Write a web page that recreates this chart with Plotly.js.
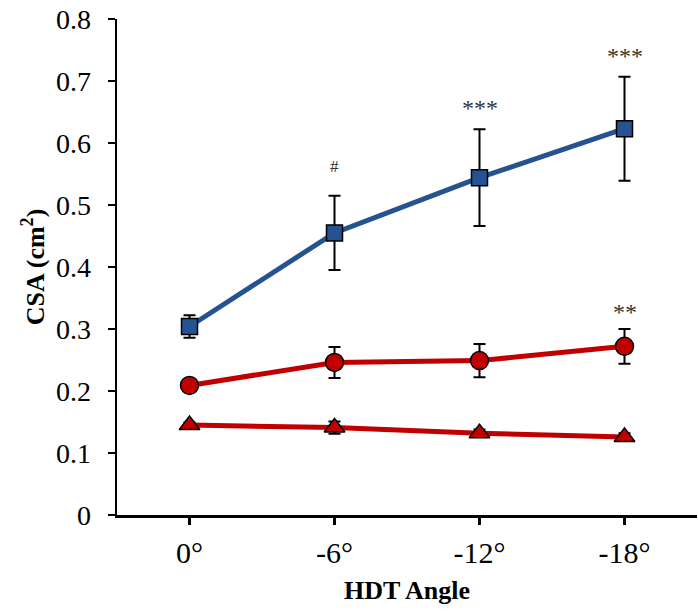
<!DOCTYPE html>
<html>
<head>
<meta charset="utf-8">
<script src="https://cdn.plot.ly/plotly-3.0.1.min.js"></script>
<style>html,body{margin:0;padding:0;background:#fff;}#chart{width:698px;height:611px;}</style>
</head>
<body>
<div id="chart"></div>
<script>
const categories = ["0°", "-6°", "-12°", "-18°"];
const xIndex = [0, 1, 2, 3];
const squareValues = [0.304, 0.455, 0.544, 0.623];
const squareErrors = [0.018, 0.060, 0.078, 0.084];
const circleValues = [0.209, 0.246, 0.249, 0.272];
const circleErrors = [0.006, 0.025, 0.027, 0.028];
const triangleValues = [0.145, 0.141, 0.132, 0.126];
const triangleErrors = [0.004, 0.010, 0.006, 0.006];
const sigLabels = ["", "#", "***", "***"];
const sigLabelsCircle = ["", "", "", "**"];

const font = "Liberation Serif";
const blue = "#255391";
const red = "#C00000";

function series(vals, errs, color, symbol, size) {
  return {
    x: xIndex, y: vals, type: "scatter", mode: "lines+markers",
    line: {color: color, width: 5},
    marker: {symbol: symbol, size: size, color: color, line: {color: "#000", width: 1.5}},
    error_y: {type: "data", array: errs, visible: true, color: "#000", thickness: 2, width: 6},
    showlegend: false, hoverinfo: "skip"
  };
}

const data = [
  series(triangleValues, triangleErrors, red, "triangle-up", 18),
  series(circleValues, circleErrors, red, "circle", 18),
  series(squareValues, squareErrors, blue, "square", 16)
];

const annotations = [];
xIndex.forEach((xi, i) => {
  if (sigLabels[i]) annotations.push({
    x: xi, y: squareValues[i] + squareErrors[i], xref: "x", yref: "y",
    text: sigLabels[i], showarrow: false, yanchor: "bottom", yshift: sigLabels[i] === "#" ? 18 : 6,
    font: {family: font, size: sigLabels[i] === "#" ? 17 : 24, color: "#333"}
  });
  if (sigLabelsCircle[i]) annotations.push({
    x: xi, y: circleValues[i] + circleErrors[i], xref: "x", yref: "y",
    text: sigLabelsCircle[i], showarrow: false, yanchor: "bottom", yshift: 2,
    font: {family: font, size: 24, color: "#333"}
  });
});

const layout = {
  width: 698, height: 611,
  margin: {l: 117, r: 1, t: 19, b: 96},
  paper_bgcolor: "#fff", plot_bgcolor: "#fff",
  font: {family: font, size: 26, color: "#000"},
  xaxis: {
    range: [-0.5, 3.5], tickvals: xIndex, ticktext: categories,
    showgrid: false, zeroline: false, showline: true, linecolor: "#000", linewidth: 2.5,
    ticks: "outside", ticklen: 7, tickwidth: 2.5, tickcolor: "#000",
    tickfont: {family: font, size: 30}, ticklabelstandoff: 2, automargin: true,
    title: {text: "<b>HDT Angle</b>", font: {family: font, size: 26}, standoff: 14}
  },
  yaxis: {
    range: [0, 0.8], dtick: 0.1, tickformat: "~g",
    showgrid: false, zeroline: false, showline: true, linecolor: "#000", linewidth: 2.5,
    ticks: "outside", ticklen: 7, tickwidth: 2.5, tickcolor: "#000",
    tickfont: {family: font, size: 28}, ticklabelstandoff: 11,
    title: {text: "<b>CSA (cm<sup>2</sup>)</b>", font: {family: font, size: 26}, standoff: 4}
  },
  annotations: annotations
};

Plotly.newPlot("chart", data, layout, {displayModeBar: false, staticPlot: true});
</script>
</body>
</html>
